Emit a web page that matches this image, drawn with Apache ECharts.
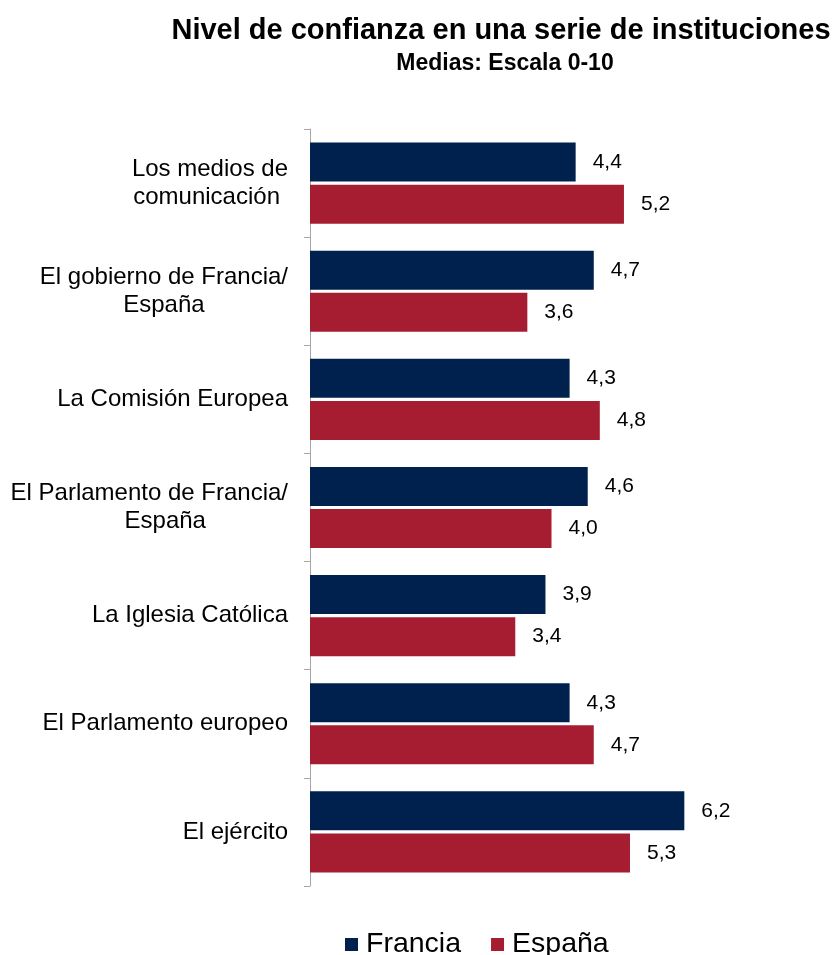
<!DOCTYPE html>
<html>
<head>
<meta charset="utf-8">
<script src="https://cdn.jsdelivr.net/npm/echarts@6/dist/echarts.min.js"></script>
<style>
html,body{margin:0;padding:0;background:#fff;}
#chart{width:835px;height:955px;}
</style>
</head>
<body>
<div id="chart"></div>
<script>
const categories = [
  ["Los medios de", "comunicación "],
  ["El gobierno de Francia/", "España"],
  ["La Comisión Europea"],
  ["El Parlamento de Francia/", "España"],
  ["La Iglesia Católica"],
  ["El Parlamento europeo"],
  ["El ejército"]
];
const seriesNames = ["Francia", "España"];
const francia = [4.4, 4.7, 4.3, 4.6, 3.9, 4.3, 6.2];
const espana = [5.2, 3.6, 4.8, 4.0, 3.4, 4.7, 5.3];
const titleText = "Nivel de confianza en una serie de instituciones";
const subtitleText = "Medias: Escala 0-10";

const FONT = 'Arial, "Liberation Sans", sans-serif';
const catKeys = categories.map(c => c.join("\n"));

const chart = echarts.init(document.getElementById('chart'), null, {renderer: 'canvas'});
const labelFmt = v => v.toFixed(1).replace('.', ',');

chart.setOption({
  animation: false,
  backgroundColor: '#ffffff',
  title: [
    {text: titleText, left: 496, top: 11, textAlign: 'center',
     textStyle: {fontFamily: FONT, fontSize: 29, fontWeight: 'bold', color: '#000'}},
    {text: subtitleText, left: 500, top: 47, textAlign: 'center',
     textStyle: {fontFamily: FONT, fontSize: 23, fontWeight: 'bold', color: '#000'}}
  ],
  legend: {
    data: seriesNames,
    left: 340,
    top: 925,
    icon: 'rect',
    itemWidth: 13,
    itemHeight: 13,
    itemGap: 30,
    textStyle: {fontFamily: FONT, fontSize: 28.5, color: '#000', padding: [0, 0, 0, 3]}
  },
  grid: {left: 310, top: 129, height: 757, width: 483, containLabel: false},
  xAxis: {
    type: 'value', min: 0, max: 8, show: false,
    splitLine: {show: false}
  },
  yAxis: {
    type: 'category',
    inverse: true,
    data: catKeys,
    axisLine: {show: true, lineStyle: {color: '#A6A6A6', width: 1}},
    axisTick: {show: true, length: 6, lineStyle: {color: '#A6A6A6'}},
    axisLabel: {
      margin: 22,
      align: 'right',
      formatter: function (v) {
        const lines = v.split("\n");
        if (v.indexOf("Parlamento de Francia") >= 0) {
          return '{c|' + lines[0] + '}\n{p|' + lines[1] + '}';
        }
        return lines.map(l => '{c|' + l + '}').join("\n");
      },
      rich: {
        c: {fontFamily: FONT, fontSize: 24, color: '#000', align: 'center', lineHeight: 28},
        p: {fontFamily: FONT, fontSize: 24, color: '#000', align: 'center', lineHeight: 28, padding: [0, 0, 0, 32]}
      }
    }
  },
  series: [
    {
      name: seriesNames[0], type: 'bar', data: francia,
      barWidth: 39, barGap: '8%',
      itemStyle: {color: '#00214E'},
      label: {show: true, position: 'right', distance: 17, formatter: p => labelFmt(p.value),
              fontFamily: FONT, fontSize: 21, color: '#000'}
    },
    {
      name: seriesNames[1], type: 'bar', data: espana,
      barWidth: 39, barGap: '8%',
      itemStyle: {color: '#A61C31'},
      label: {show: true, position: 'right', distance: 17, formatter: p => labelFmt(p.value),
              fontFamily: FONT, fontSize: 21, color: '#000'}
    }
  ]
});
</script>
</body>
</html>
